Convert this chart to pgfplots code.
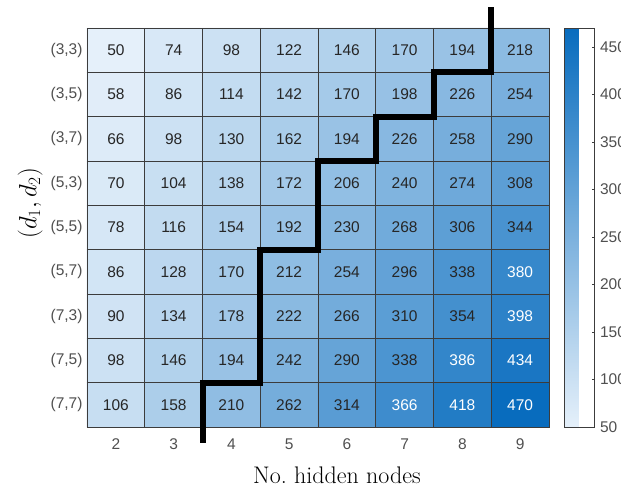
\documentclass[border=0pt]{standalone}
\usepackage{pgfplots}
\pgfplotsset{compat=1.18}
\usepackage{pgfplotstable}
\usepackage{fontspec}
\newfontfamily\arial{Liberation Sans}
\definecolor{tickgray}{RGB}{80,80,80}
\definecolor{gridgray}{RGB}{60,60,60}
\pgfplotstableread{
x y c
2 0 50
3 0 74
4 0 98
5 0 122
6 0 146
7 0 170
8 0 194
9 0 218
2 1 58
3 1 86
4 1 114
5 1 142
6 1 170
7 1 198
8 1 226
9 1 254
2 2 66
3 2 98
4 2 130
5 2 162
6 2 194
7 2 226
8 2 258
9 2 290
2 3 70
3 3 104
4 3 138
5 3 172
6 3 206
7 3 240
8 3 274
9 3 308
2 4 78
3 4 116
4 4 154
5 4 192
6 4 230
7 4 268
8 4 306
9 4 344
2 5 86
3 5 128
4 5 170
5 5 212
6 5 254
7 5 296
8 5 338
9 5 380
2 6 90
3 6 134
4 6 178
5 6 222
6 6 266
7 6 310
8 6 354
9 6 398
2 7 98
3 7 146
4 7 194
5 7 242
6 7 290
7 7 338
8 7 386
9 7 434
2 8 106
3 8 158
4 8 210
5 8 262
6 8 314
7 8 366
8 8 418
9 8 470
}\datatable
\begin{document}
\begin{tikzpicture}
\useasboundingbox (-87pt,-62pt) rectangle (534pt,427pt);
\begin{axis}[
  at={(0pt,0pt)}, anchor=south west,
  scale only axis, width=462pt, height=399pt,
  xmin=1.5, xmax=9.5, ymin=-0.5, ymax=8.5,
  y dir=reverse,
  clip=false,
  axis line style={draw=gridgray, line width=0.6pt},
  xtick={2,...,9},
  ytick={0,...,8},
  yticklabels={{(3,3)},{(3,5)},{(3,7)},{(5,3)},{(5,5)},{(5,7)},{(7,3)},{(7,5)},{(7,7)}},
  major tick length=0pt,
  tick label style={font=\arial\fontsize{15.5}{17}\selectfont, text=tickgray},
  /pgf/number format/assume math mode=true,
  xticklabel style={yshift=-8pt},
  yticklabel style={xshift=-1pt},
  xlabel={No.\ hidden nodes},
  xlabel style={font=\fontsize{24}{28}\selectfont, at={(axis description cs:0.541,0)}, anchor=north, yshift=-36pt},
  ylabel={$(d_1,d_2)$},
  ylabel style={font=\fontsize{25}{28}\selectfont, at={(axis description cs:-0.123,0.561)}, anchor=center},
  colormap={bl}{rgb255=(229,240,250) rgb255=(8,108,190)},
  point meta min=50, point meta max=470,
  colorbar,
  colorbar style={
    at={(parent axis.north east)}, anchor=north west, xshift=7pt,
    y dir=normal,
    scale only axis, width=30pt, height=399pt,
    axis line style={draw=gridgray, line width=0.8pt},
    ytick={50,100,...,450},
    ytick pos=right,
    yticklabel pos=right,
    tick align=inside,
    major tick length=3pt,
    ytick style={draw=gridgray, line width=0.6pt},
    yticklabel style={font=\arial\fontsize{15.5}{17}\selectfont, text=tickgray, xshift=2pt},
    /pgf/number format/assume math mode=true,
  },
]
\addplot[matrix plot*, mesh/cols=8, point meta=explicit] table[x=x, y=y, meta=c] {\datatable};
% cell borders
\pgfplotsinvokeforeach{1.5,2.5,3.5,4.5,5.5,6.5,7.5,8.5,9.5}{
  \addplot[gridgray, line width=0.6pt, forget plot] coordinates {(#1,-0.5) (#1,8.5)};
}
\pgfplotsinvokeforeach{-0.5,0.5,1.5,2.5,3.5,4.5,5.5,6.5,7.5,8.5}{
  \addplot[gridgray, line width=0.6pt, forget plot] coordinates {(1.5,#1) (9.5,#1)};
}
\addplot[draw=none, mark=none, point meta=explicit symbolic,
  x filter/.expression={\thisrow{c}>360 ? nan : x},
  nodes near coords,
  every node near coord/.append style={anchor=center, text=black!85, font=\arial\fontsize{15.5}{17}\selectfont}]
  table[x=x, y=y, meta=c] {\datatable};
\addplot[draw=none, mark=none, point meta=explicit symbolic,
  x filter/.expression={\thisrow{c}>360 ? x : nan},
  nodes near coords,
  every node near coord/.append style={anchor=center, text=white, font=\arial\fontsize{15.5}{17}\selectfont}]
  table[x=x, y=y, meta=c] {\datatable};
\addplot[black, line width=6pt, line join=miter, line cap=butt] coordinates {
  (3.5,8.86) (3.5,7.5) (4.5,7.5) (4.5,4.5) (5.5,4.5) (5.5,2.5) (6.5,2.5) (6.5,1.5) (7.5,1.5) (7.5,0.5) (8.5,0.5) (8.5,-0.97)
};
\end{axis}
\end{tikzpicture}
\end{document}
